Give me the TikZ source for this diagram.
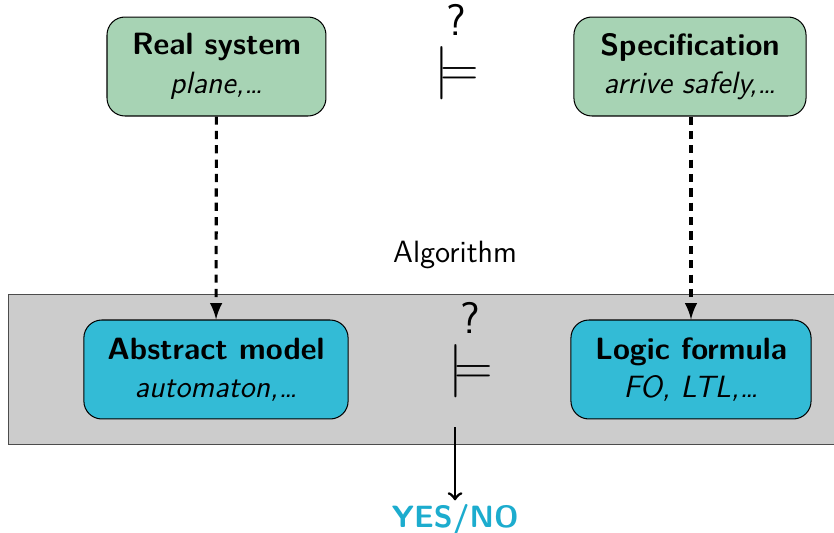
\documentclass[tikz,border=0pt]{standalone}
\usepackage{amsmath,amssymb}
\definecolor{boxgreen}{RGB}{167,211,180}
\definecolor{boxcyan}{RGB}{51,187,214}
\definecolor{answercyan}{RGB}{28,172,206}
\definecolor{bandgray}{RGB}{204,204,204}
\tikzset{
  basebox/.style={draw=black,rounded corners=7pt,align=center,minimum height=1.356cm,inner sep=0pt,font=\sffamily\large},
  greenbox/.style={basebox,fill=boxgreen},
  cyanbox/.style={basebox,fill=boxcyan},
  refines/.style={->,>=latex,line width=1.2pt,dash pattern=on 3.2pt off 2.4pt},
  modelsym/.style={font=\huge,inner sep=0pt},
}
\newcommand{\querymodels}{$\stackrel{\textsf{\LARGE ?}}{\models}$}
\begin{document}
\begin{tikzpicture}[font=\sffamily,>=to]
        \useasboundingbox (0cm,0cm) rectangle (11.426cm,-7.302cm);

        % draw the algorithm band
        \fill[bandgray,draw=black!70] (0.123cm,-4.028cm) rectangle (11.6cm,-6.083cm);
        \node[font=\sffamily\large] (algo) at (6.234cm,-3.494cm) {Algorithm};

        % draw the upper boxes
        \node[greenbox,minimum width=3.0cm] (real) at (2.966cm,-0.911cm)
                {\textbf{Real system}\\[1pt]\textit{plane,\dots}};
        \node[greenbox,minimum width=3.18cm] (spec) at (9.453cm,-0.911cm)
                {\textbf{Specification}\\[1pt]\textit{arrive safely,\dots}};
        \node[modelsym] (topmodels) at (6.25cm,-0.68cm) {\querymodels};

        % draw the lower boxes
        \node[cyanbox,minimum width=3.62cm] (abstract) at (2.959cm,-5.062cm)
                {\textbf{Abstract model}\\[1pt]\textit{automaton,\dots}};
        \node[cyanbox,minimum width=3.29cm] (logic) at (9.467cm,-5.062cm)
                {\textbf{Logic formula}\\[1pt]\textit{FO, LTL,\dots}};
        \node[modelsym] (lowmodels) at (6.45cm,-4.76cm) {\querymodels};

        % draw the abstraction steps
        \draw[refines] (real) -- (abstract);
        \draw[refines] (spec.south -| logic) -- (logic);

        % draw the answer
        \coordinate (out) at (6.234cm,-5.85cm);
        \node[text=answercyan,font=\sffamily\large\bfseries] (answer) at (6.234cm,-7.12cm) {YES/NO};
        \draw[->,line width=1.1pt] (out) -- ([yshift=-2pt]answer.north);
\end{tikzpicture}
\end{document}
